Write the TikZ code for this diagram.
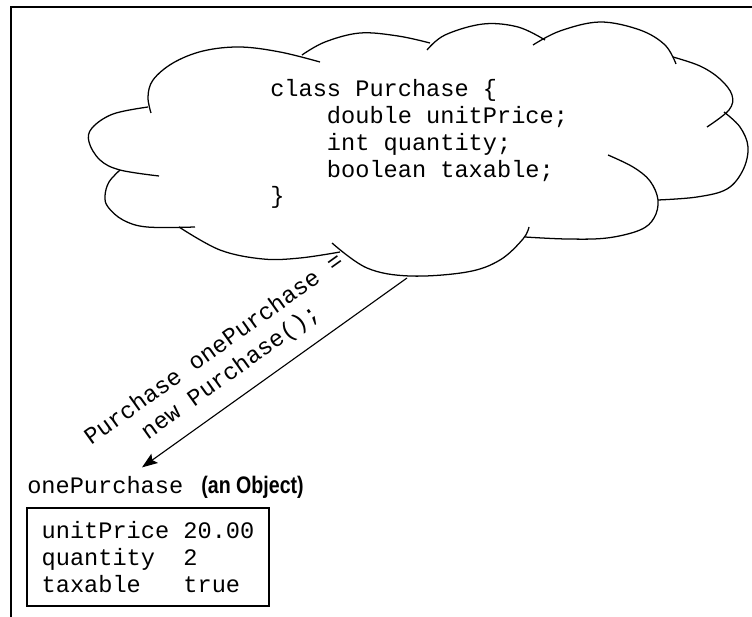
\documentclass[tikz,border=0pt]{standalone}
\usepackage{fontspec}
\setmonofont{Liberation Mono}
\newfontfamily\condfont[FakeStretch=0.82]{Liberation Sans}
\usetikzlibrary{arrows.meta}

\begin{document}
\begin{tikzpicture}[
    x=0.025cm, y=-0.025cm,
    code/.style={font=\ttfamily\fontsize{16.8}{19.2}\selectfont, inner sep=0, align=left},
    cloudline/.style={line width=0.9pt},
    frameline/.style={line width=1.4pt},
    objbox/.style={code, draw, line width=1.4pt, minimum width=6.05cm, minimum height=2.45cm},
    arrowline/.style={-{Stealth[length=11pt, width=8pt, inset=2pt]}, line width=0.8pt}
]
    \useasboundingbox (0,0) rectangle (752,617);

    % Frame
    \draw[frameline] (11,617) -- (11,7) -- (752,7);

    % Cloud
    \draw[cloudline] plot[smooth, tension=0.6] coordinates {(148,107) (113,114) (92,128) (89,142) (100,160) (120,170) (159,176)};
    \draw[cloudline] plot[smooth, tension=0.6] coordinates {(151,113) (148,97) (153,80) (173,63) (203,51) (240,47) (280,52) (320,62)};
    \draw[cloudline] plot[smooth, tension=0.6] coordinates {(302,55) (325,42) (360,33) (398,36) (430,43)};
    \draw[cloudline] plot[smooth, tension=0.6] coordinates {(427,50) (445,35) (483,24) (518,27) (545,40)};
    \draw[cloudline] plot[smooth, tension=0.6] coordinates {(533,45) (560,31) (600,22) (640,30) (665,45) (676,64)};
    \draw[cloudline] plot[smooth, tension=0.6] coordinates {(673,57) (700,66) (720,79) (732,95) (729,110) (707,127)};
    \draw[cloudline] plot[smooth, tension=0.6] coordinates {(724,112) (740,127) (748,147) (743,170) (727,189) (697,197) (658,200)};
    \draw[cloudline] plot[smooth, tension=0.6] coordinates {(608,155) (633,167) (650,181) (658,200) (654,218) (640,230) (607,238) (567,239) (525,237)};
    \draw[cloudline] plot[smooth, tension=0.6] coordinates {(529,227) (523,239) (500,260) (467,272) (410,276) (367,268) (332,243)};
    \draw[cloudline] plot[smooth, tension=0.6] coordinates {(340,252) (300,258) (263,259) (220,250) (179,227)};
    \draw[cloudline] plot[smooth, tension=0.6] coordinates {(195,227) (147,227) (123,220) (108,207) (105,196) (109,182) (120,170)};

    % Class text (base = last line)
    \node[code, anchor=base west] (cls) at (270,204) {class Purchase \{\\~~~~double unitPrice;\\~~~~int quantity;\\~~~~boolean taxable;\\\}};

    % Object
    \node[code, anchor=base west] (objname) at (27,493) {onePurchase~\hspace{0.1cm}{\condfont\bfseries\fontsize{17}{19}\selectfont (an Object)}};
    \node[objbox] (obj) at (148,557) {unitPrice 20.00\\quantity~~2\\taxable~~~true};

    % Creation arrow
    \coordinate (cloudbot) at (407,278);
    \draw[arrowline] (cloudbot) -- ([shift={(115,-8)}]objname.north west)
        node[pos=0.61, sloped, above=9.5pt, code, align=center, font=\ttfamily\fontsize{16.8}{20.1}\selectfont] (stmt) {Purchase onePurchase =\\new Purchase();};
\end{tikzpicture}
\end{document}
